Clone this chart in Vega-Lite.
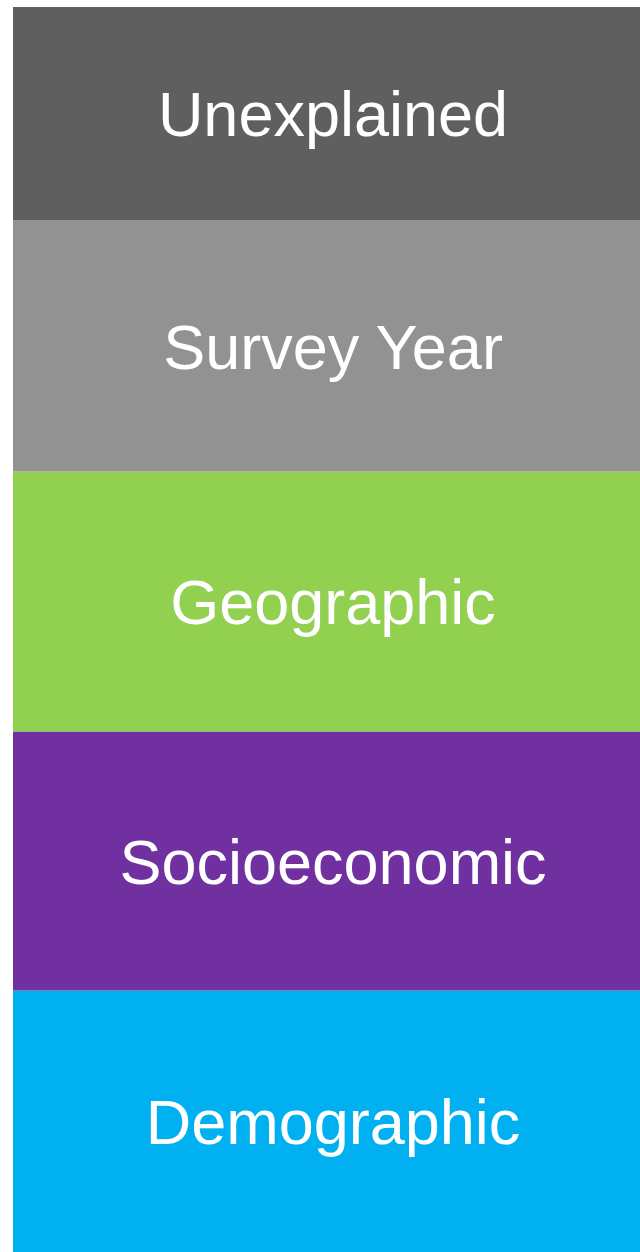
{
  "$schema": "https://vega.github.io/schema/vega-lite/v6.json",
  "autosize": "none",
  "width": 640,
  "height": 1245,
  "padding": {"left": 13, "top": 7, "right": 0, "bottom": 0},
  "background": "white",
  "config": {"view": {"stroke": null}},
  "data": {
    "values": [
      {"bar": "All", "component": "Demographic", "share": 21.0, "rank": 1},
      {"bar": "All", "component": "Socioeconomic", "share": 20.8, "rank": 2},
      {"bar": "All", "component": "Geographic", "share": 20.9, "rank": 3},
      {"bar": "All", "component": "Survey Year", "share": 20.2, "rank": 4},
      {"bar": "All", "component": "Unexplained", "share": 17.1, "rank": 5}
    ]
  },
  "transform": [
    {"stack": "share", "groupby": [], "sort": [{"field": "rank", "order": "ascending"}], "as": ["s0", "s1"]},
    {"calculate": "(datum.s0 + datum.s1) / 2", "as": "mid"}
  ],
  "encoding": {
    "x": {"field": "bar", "type": "nominal", "scale": {"paddingInner": 0, "paddingOuter": 0}, "axis": null}
  },
  "layer": [
    {
      "mark": {"type": "bar", "stroke": null},
      "encoding": {
        "y": {"field": "s0", "type": "quantitative", "scale": {"domain": [0, 100], "nice": false}, "axis": null},
        "y2": {"field": "s1"},
        "color": {
          "field": "component",
          "type": "nominal",
          "scale": {
            "domain": ["Unexplained", "Survey Year", "Geographic", "Socioeconomic", "Demographic"],
            "range": ["#5f5f5f", "#929292", "#92d050", "#7030a0", "#00b0f0"]
          },
          "legend": null
        }
      }
    },
    {
      "mark": {"type": "text", "color": "white", "font": "Liberation Sans", "fontSize": 63, "baseline": "middle", "align": "center", "dy": 4},
      "encoding": {
        "y": {"field": "mid", "type": "quantitative", "scale": {"domain": [0, 100], "nice": false}},
        "text": {"field": "component"}
      }
    }
  ]
}
